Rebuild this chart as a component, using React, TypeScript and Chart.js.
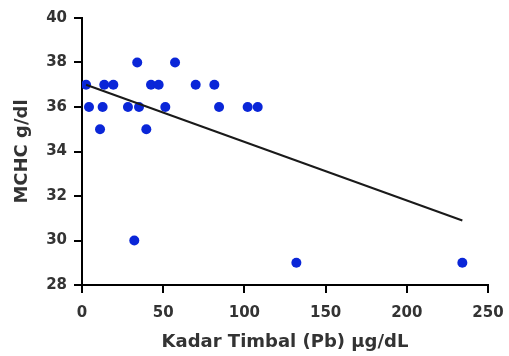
import React, { useEffect, useRef } from "react";
import { Chart, registerables } from "chart.js";

Chart.register(...registerables);

const leadLevels = [2.5, 4.3, 11.1, 12.7, 13.7, 19.3, 28.3, 32.2, 34, 35.1, 39.6, 42.5, 47.2, 51.3, 57.3, 70, 81.5, 84.4, 102, 108.2, 132, 234.2];
const mchcValues = [37, 36, 35, 36, 37, 37, 36, 30, 38, 36, 35, 37, 37, 36, 38, 37, 37, 36, 36, 36, 29, 29];
const fitX = [2.5, 234.2];
const fitY = [37.0, 30.9];
const xTicks = [0, 50, 100, 150, 200, 250];
const yTicks = [28, 30, 32, 34, 36, 38, 40];

export default function App() {
  const ref = useRef<HTMLCanvasElement>(null);
  useEffect(() => {
    document.body.style.margin = "0";
    const ctx = ref.current!;
    const family = "'DejaVu Sans', 'Liberation Sans', Arial, sans-serif";
    const tickFont = { family, weight: "bold" as const, size: 15 };
    const titleFont = { family, weight: "bold" as const, size: 18 };
    const chart = new Chart(ctx, {
      type: "scatter",
      data: {
        datasets: [
          {
            label: "fit",
            type: "line",
            data: fitX.map((x, i) => ({ x, y: fitY[i] })),
            borderColor: "#1a1a1a",
            borderWidth: 2,
            pointRadius: 0,
            fill: false,
          },
          {
            label: "MCHC",
            data: leadLevels.map((x, i) => ({ x, y: mchcValues[i] })),
            backgroundColor: "#0a26d8",
            borderColor: "#0a26d8",
            pointRadius: 5,
            borderWidth: 0,
          },
        ],
      },
      options: {
        animation: false,
        responsive: false,
        layout: { padding: { top: 18, right: 21, left: 0, bottom: 0 } },
        plugins: { legend: { display: false }, tooltip: { enabled: false } },
        scales: {
          x: {
            type: "linear",
            min: 0,
            max: 250,
            afterBuildTicks: (s: any) => { s.ticks = xTicks.map((v) => ({ value: v })); },
            afterFit: (s: any) => { s.height = 71; s.paddingRight = 0; s.paddingLeft = 0; },
            grid: { display: true, drawOnChartArea: false, drawTicks: true, tickLength: 8, color: "#000", lineWidth: 2 },
            border: { display: true, color: "#000", width: 2 },
            ticks: { color: "#333", font: tickFont, padding: 11, maxRotation: 0 },
            title: { display: true, text: "Kadar Timbal (Pb) µg/dL", color: "#333", font: titleFont, padding: { top: 0, bottom: 3 } },
          },
          y: {
            type: "linear",
            min: 28,
            max: 40,
            afterBuildTicks: (s: any) => { s.ticks = yTicks.map((v) => ({ value: v })); },
            afterFit: (s: any) => { s.width = 82; s.paddingTop = 0; s.paddingBottom = 0; },
            grid: { display: true, drawOnChartArea: false, drawTicks: true, tickLength: 8, color: "#000", lineWidth: 2 },
            border: { display: true, color: "#000", width: 2 },
            ticks: { color: "#333", font: tickFont, padding: 7 },
            title: { display: true, text: "MCHC g/dl", color: "#333", font: titleFont, padding: { top: 12, bottom: 0 } },
          },
        },
      },
    });
    return () => chart.destroy();
  }, []);
  return (
    <div style={{ width: 509, height: 356, background: "#fff" }}>
      <canvas ref={ref} width={509} height={356} />
    </div>
  );
}
